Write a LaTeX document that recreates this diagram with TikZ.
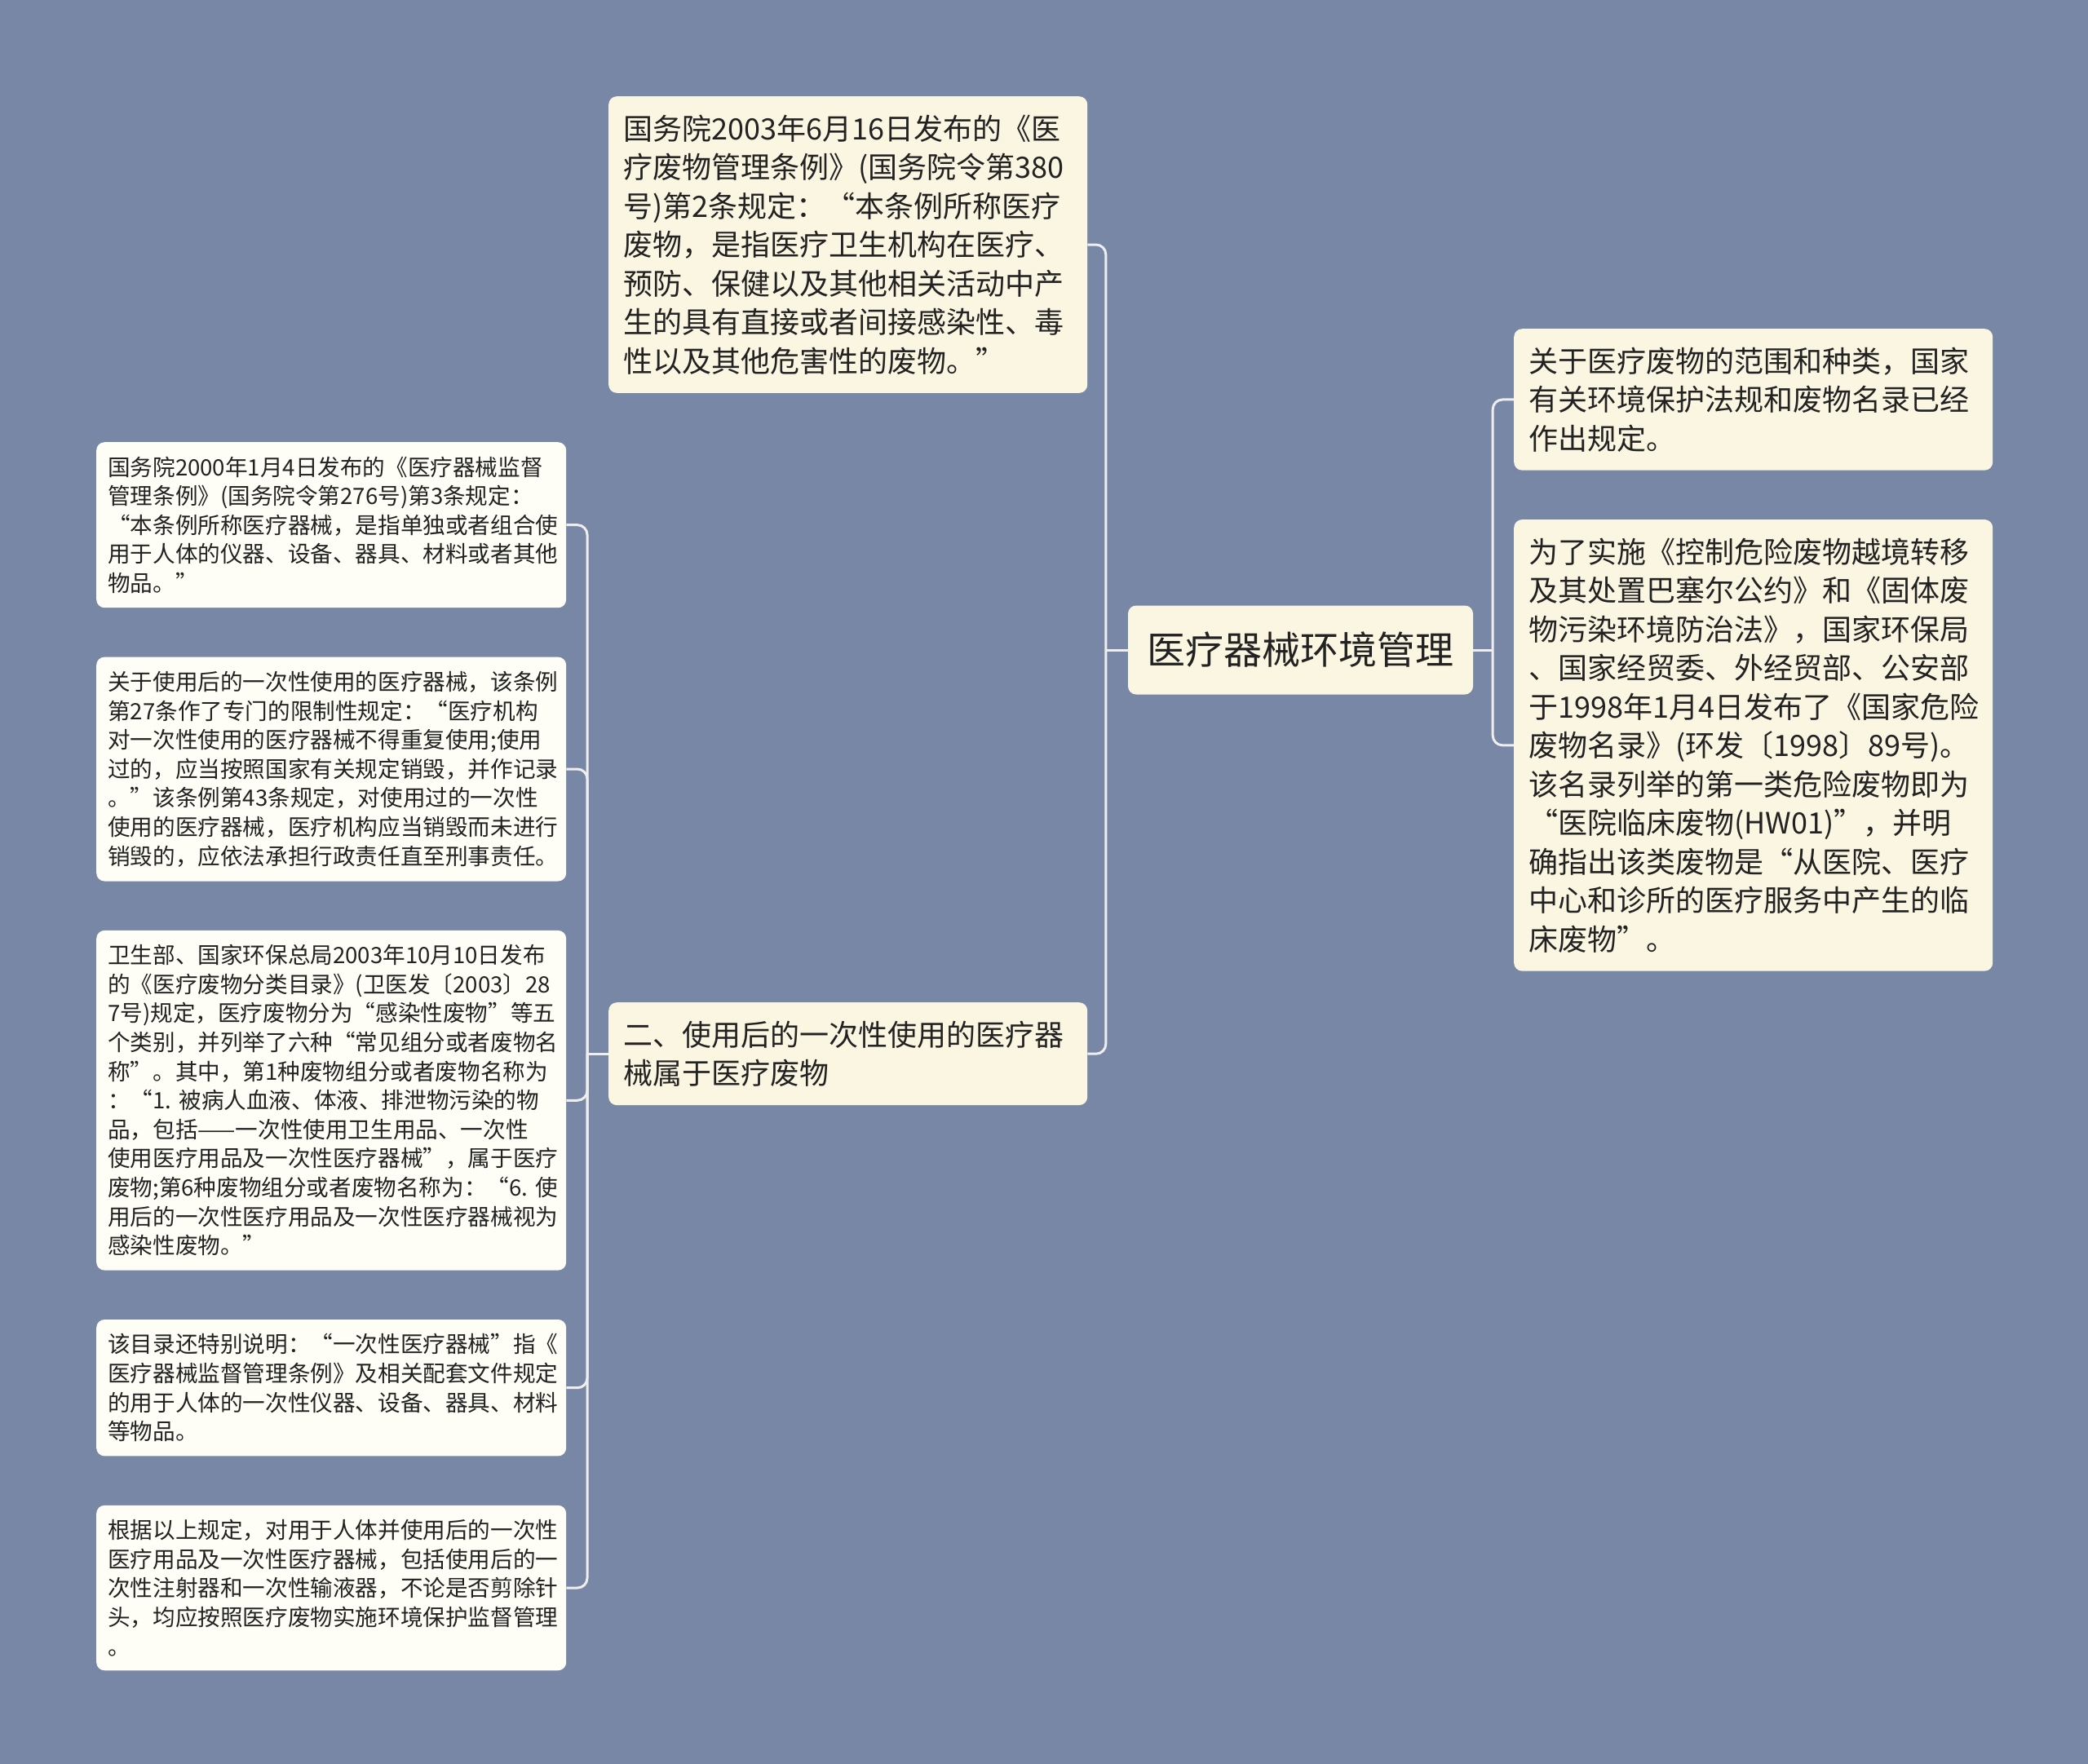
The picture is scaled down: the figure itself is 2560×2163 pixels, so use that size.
\documentclass[tikz,border=0pt]{standalone}
\usepackage{fontspec}
\setmainfont{Noto Sans CJK SC}
\usetikzlibrary{positioning}
\definecolor{bgblue}{RGB}{121,135,166}
\definecolor{cream}{RGB}{250,246,226}
\definecolor{leafwhite}{RGB}{254,254,246}
\definecolor{inkgray}{RGB}{34,34,34}
\definecolor{linkgray}{RGB}{238,238,238}

\begin{document}
\begin{tikzpicture}[x=1pt, y=-1pt,
    topic/.style={rectangle, rounded corners=10pt, fill=cream, text=inkgray, align=left, anchor=north west, inner xsep=18pt, inner ysep=22.5pt, text width=551pt, font=\fontsize{36}{47.5}\selectfont},
    leaf/.style={topic, fill=leafwhite, inner xsep=14pt, inner ysep=17.5pt, text width=548pt, font=\fontsize{27.6}{35.6}\selectfont},
    rootbox/.style={rectangle, rounded corners=10pt, fill=cream, text=inkgray, minimum width=423pt, minimum height=109pt, font=\fontsize{47}{56}\selectfont},
    link/.style={draw=linkgray, line width=3pt, rounded corners=12pt}]
					\useasboundingbox (0,0) rectangle (2560,2163);
					\fill[bgblue] (0,0) rectangle (2560,2163);

					% Draw the nodes.
					\node[rootbox] at (1594.5,797) (root) {医疗器械环境管理};
					\node[topic] at (746,118) (tm) {国务院2003年6月16日发布的《医\\疗废物管理条例》(国务院令第380\\号)第2条规定：“本条例所称医疗\\废物，是指医疗卫生机构在医疗、\\预防、保健以及其他相关活动中产\\生的具有直接或者间接感染性、毒\\性以及其他危害性的废物。”};
					\node[topic] at (746,1229) (mb) {二、使用后的一次性使用的医疗器\\械属于医疗废物};
					\node[topic] at (1856,403) (rt) {关于医疗废物的范围和种类，国家\\有关环境保护法规和废物名录已经\\作出规定。};
					\node[topic, below=60pt of rt] (rb) {为了实施《控制危险废物越境转移\\及其处置巴塞尔公约》和《固体废\\物污染环境防治法》，国家环保局\\、国家经贸委、外经贸部、公安部\\于1998年1月4日发布了《国家危险\\废物名录》(环发〔1998〕89号)。\\该名录列举的第一类危险废物即为\\“医院临床废物(HW01)”，并明\\确指出该类废物是“从医院、医疗\\中心和诊所的医疗服务中产生的临\\床废物”。};
					\node[leaf] at (118,542) (l1) {国务院2000年1月4日发布的《医疗器械监督\\管理条例》(国务院令第276号)第3条规定：\\“本条例所称医疗器械，是指单独或者组合使\\用于人体的仪器、设备、器具、材料或者其他\\物品。”};
					\node[leaf, below=60pt of l1] (l2) {关于使用后的一次性使用的医疗器械，该条例\\第27条作了专门的限制性规定：“医疗机构\\对一次性使用的医疗器械不得重复使用;使用\\过的，应当按照国家有关规定销毁，并作记录\\。”该条例第43条规定，对使用过的一次性\\使用的医疗器械，医疗机构应当销毁而未进行\\销毁的，应依法承担行政责任直至刑事责任。};
					\node[leaf, below=60pt of l2] (l3) {卫生部、国家环保总局2003年10月10日发布\\的《医疗废物分类目录》(卫医发〔2003〕28\\7号)规定，医疗废物分为“感染性废物”等五\\个类别，并列举了六种“常见组分或者废物名\\称”。其中，第1种废物组分或者废物名称为\\：“1.~被病人血液、体液、排泄物污染的物\\品，包括——一次性使用卫生用品、一次性\\使用医疗用品及一次性医疗器械”，属于医疗\\废物;第6种废物组分或者废物名称为：“6.~使\\用后的一次性医疗用品及一次性医疗器械视为\\感染性废物。”};
					\node[leaf, below=60pt of l3] (l4) {该目录还特别说明：“一次性医疗器械”指《\\医疗器械监督管理条例》及相关配套文件规定\\的用于人体的一次性仪器、设备、器具、材料\\等物品。};
					\node[leaf, below=60pt of l4] (l5) {根据以上规定，对用于人体并使用后的一次性\\医疗用品及一次性医疗器械，包括使用后的一\\次性注射器和一次性输液器，不论是否剪除针\\头，均应按照医疗废物实施环境保护监督管理\\。};

					% Connect nodes with edges
					\coordinate[left=27pt of root.west] (midbus);
					\coordinate[right=24pt of root.east] (rightbus);
					\coordinate[left=26pt of mb.west] (leafbus);
					\draw[link] (root.west) -- (midbus);
					\draw[link] (midbus) |- (tm.east);
					\draw[link] (midbus) |- (mb.east);
					\draw[link] (root.east) -- (rightbus);
					\draw[link] (rightbus) |- (rt.west);
					\draw[link] (rightbus) |- (rb.west);
					\draw[link] (mb.west) -- (leafbus);
					\foreach \n in {1,...,5}
						\draw[link] (leafbus) |- (l\n.east);
				\end{tikzpicture}
\end{document}
